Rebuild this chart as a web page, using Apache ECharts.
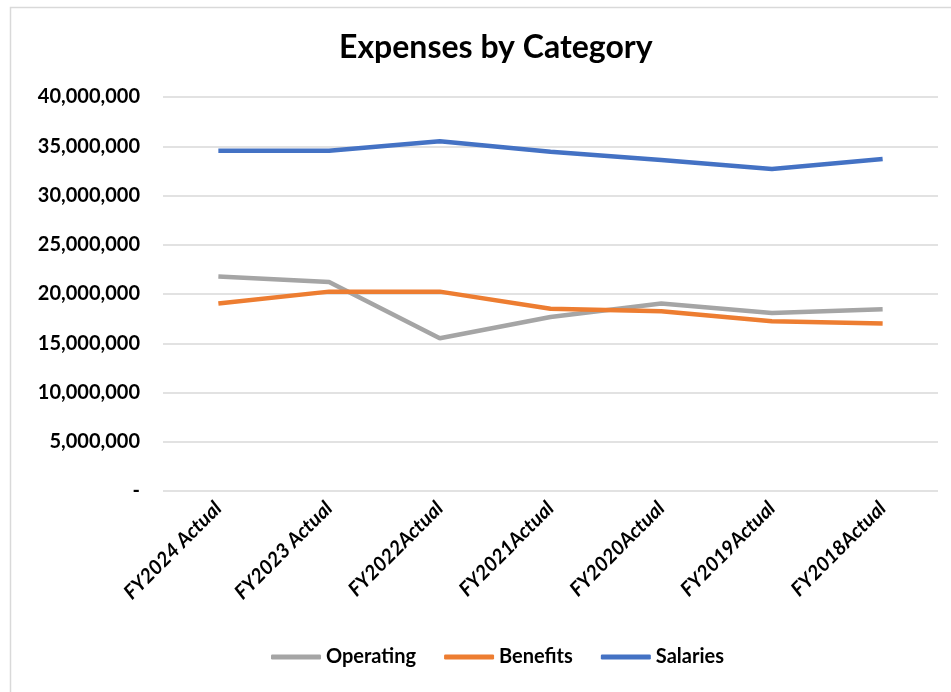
<!DOCTYPE html>
<html lang="en">
<head>
  <meta charset="UTF-8">
  <title>Expenses by Category</title>
  <style type="text/css">
    html, body { margin: 0; padding: 0; background: #fff; }
    #main { width: 951px; height: 692px; }
  </style>
</head>
<body>
  <div id="main"></div>
  <script type="text/javascript" src="https://cdn.jsdelivr.net/npm/echarts@6/dist/echarts.min.js"></script>
  <script type="text/javascript">
    var categories = ['FY2024 Actual', 'FY2023 Actual', 'FY2022Actual', 'FY2021Actual', 'FY2020Actual', 'FY2019Actual', 'FY2018Actual'];
    var operating = [21780000, 21230000, 15500000, 17670000, 19040000, 18080000, 18460000];
    var benefits = [19040000, 20240000, 20240000, 18500000, 18250000, 17230000, 17000000];
    var salaries = [34550000, 34550000, 35500000, 34450000, 33600000, 32700000, 33700000];

    var font = 'Lato, "Open Sans", sans-serif';
    var myChart = echarts.init(document.getElementById('main'));

    function fmt(v) {
      if (v === 0) return '-';
      return v.toString().replace(/\B(?=(\d{3})+(?!\d))/g, ',');
    }

    function line(name, data, color) {
      return {
        name: name,
        type: 'line',
        data: data,
        symbol: 'none',
        lineStyle: { color: color, width: 4.5 },
        itemStyle: { color: color }
      };
    }

    var option = {
      backgroundColor: '#fff',
      animation: false,
      title: {
        text: 'Expenses by Category',
        left: 334,
        top: 27,
        textStyle: { fontFamily: font, fontSize: 32, fontWeight: 'bold', color: '#000' }
      },
      legend: {
        bottom: 20,
        left: 266,
        itemWidth: 50,
        itemHeight: 5,
        itemGap: 28,
        icon: 'roundRect',
        textStyle: { fontFamily: font, fontSize: 20, fontWeight: 'bold', color: '#000' },
        data: ['Operating', 'Benefits', 'Salaries']
      },
      grid: { left: 163, right: 13, top: 97, bottom: 201 },
      xAxis: {
        type: 'category',
        data: categories,
        boundaryGap: true,
        axisLine: { show: false },
        axisTick: { show: false },
        axisLabel: {
          rotate: 45,
          interval: 0,
          margin: 14,
          fontFamily: font,
          fontSize: 20,
          fontWeight: 'bold',
          fontStyle: 'italic',
          color: '#000'
        }
      },
      yAxis: {
        type: 'value',
        min: 0,
        max: 40000000,
        interval: 5000000,
        axisLine: { show: false },
        axisTick: { show: false },
        splitLine: { lineStyle: { color: '#d9d9d9', width: 1.5 } },
        axisLabel: {
          margin: 23,
          fontFamily: font,
          fontSize: 20,
          fontWeight: 'bold',
          color: '#000',
          formatter: fmt
        }
      },
      graphic: [{
        type: 'rect',
        left: 8,
        top: 5,
        shape: { width: 960, height: 700 },
        style: { fill: 'none', stroke: '#d9d9d9', lineWidth: 1.5 },
        silent: true
      }],
      series: [
        line('Operating', operating, '#a5a5a5'),
        line('Benefits', benefits, '#ed7d31'),
        line('Salaries', salaries, '#4472c4')
      ]
    };
    myChart.setOption(option);
  </script>
</body>
</html>
